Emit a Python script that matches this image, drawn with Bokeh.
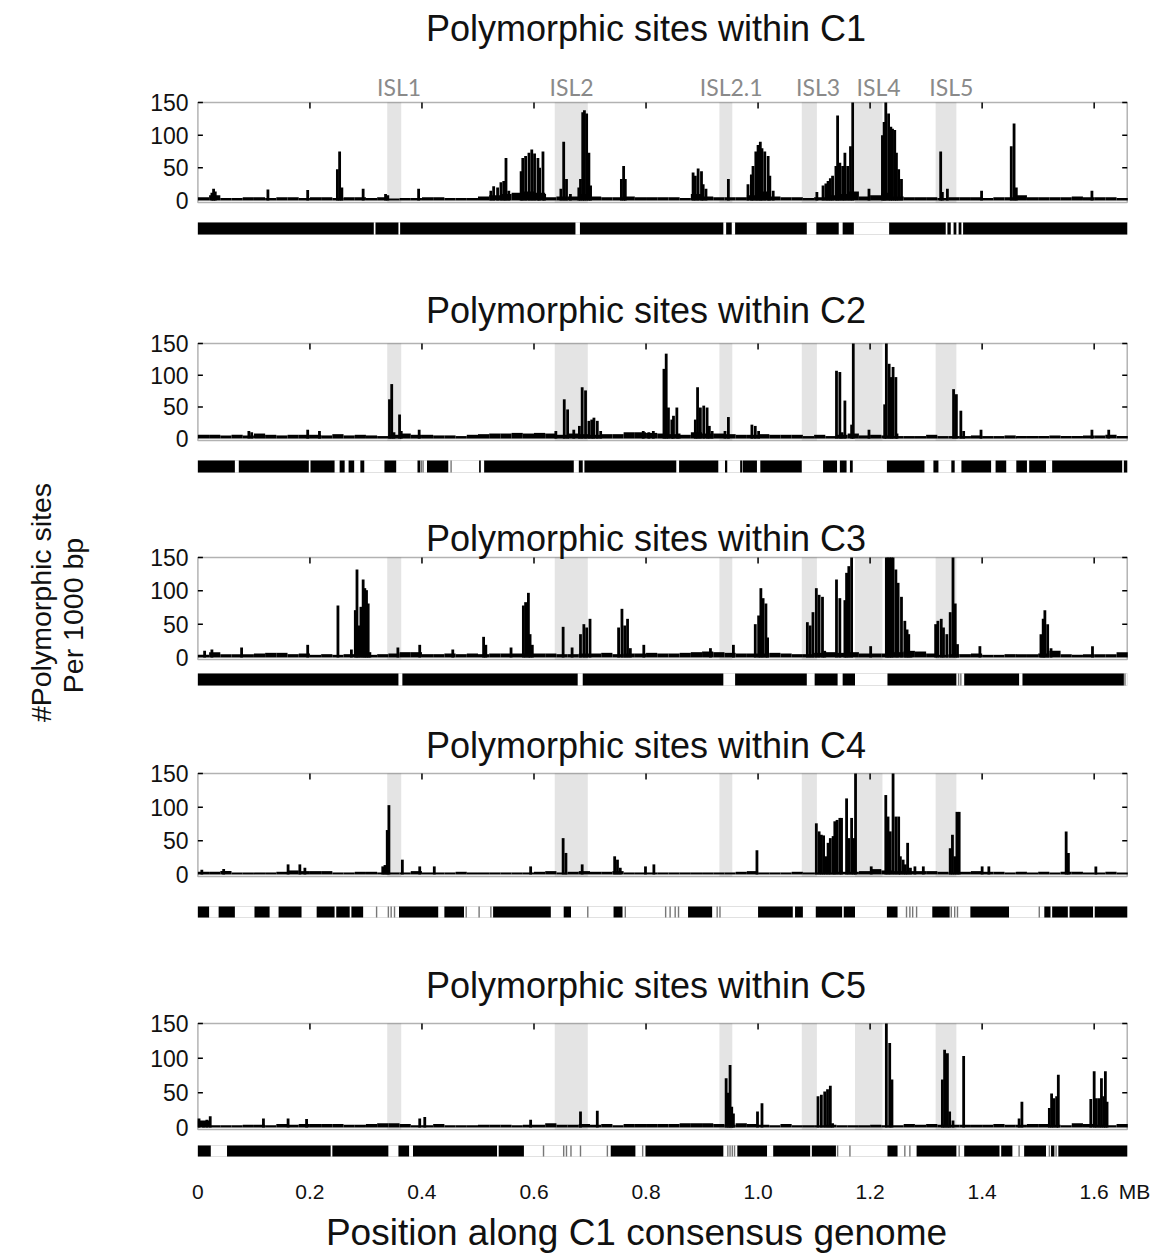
from math import pi
from bokeh.plotting import figure
from bokeh.models import Range1d, LinearAxis, FixedTicker, Label, BoxAnnotation
from bokeh.layouts import column, row
from bokeh.embed import file_html
from bokeh.resources import INLINE

FONT = "Liberation Sans"
ISL_FONT = "Lato"

# ---------------- data ----------------
# genomic islands (MB)
isl_names = ["ISL1", "ISL2", "ISL2.1", "ISL3", "ISL4", "ISL5"]
isl_start = [0.338, 0.637, 0.931, 1.078, 1.173, 1.317]
isl_end = [0.363, 0.696, 0.954, 1.105, 1.222, 1.354]
isl_label_x = [0.359, 0.667, 0.952, 1.107, 1.215, 1.345]

x_ticks = [0, 0.2, 0.4, 0.6, 0.8, 1.0, 1.2, 1.4, 1.6]
x_tick_labels = ["0", "0.2", "0.4", "0.6", "0.8", "1.0", "1.2", "1.4", "1.6"]
x_unit = "MB"
y_ticks = [0, 50, 100, 150]

# background level, 20 kb bins starting at 0
base_bin = 0.02
base_x = [0.01 + base_bin * i for i in range(83)]

c1_base = [5, 8, 4, 4, 5, 5, 4, 5, 5, 4,
           5, 5, 4, 5, 5, 4, 5, 3, 4, 4,
           5, 5, 4, 4, 4, 6, 8, 10, 12, 14,
           12, 5, 6, 6, 10, 6, 5, 5, 6, 5,
           5, 5, 5, 4, 10, 6, 5, 5, 5, 8,
           14, 6, 5, 5, 4, 5, 8, 10, 14, 6,
           8, 12, 6, 5, 5, 5, 4, 5, 5, 5,
           4, 5, 5, 8, 5, 5, 5, 5, 6, 5,
           5, 5, 4]
c2_base = [6, 6, 5, 6, 5, 8, 6, 5, 6, 6,
           6, 5, 7, 5, 6, 5, 4, 6, 8, 6,
           6, 5, 5, 4, 6, 7, 8, 8, 9, 8,
           9, 8, 6, 8, 7, 6, 7, 7, 10, 10,
           9, 8, 7, 6, 10, 8, 8, 7, 6, 6,
           7, 6, 6, 6, 4, 6, 4, 6, 8, 5,
           6, 5, 4, 4, 4, 6, 4, 4, 4, 5,
           4, 4, 5, 4, 4, 4, 5, 4, 4, 5,
           5, 6, 4]
c3_base = [4, 8, 5, 5, 5, 6, 7, 7, 5, 6,
           4, 5, 4, 5, 5, 4, 5, 6, 8, 8,
           5, 5, 6, 5, 6, 5, 6, 6, 6, 6,
           6, 6, 5, 5, 6, 6, 7, 5, 6, 6,
           7, 6, 6, 7, 8, 9, 8, 7, 6, 6,
           6, 7, 6, 5, 5, 7, 8, 7, 8, 6,
           6, 6, 8, 10, 9, 6, 4, 5, 5, 6,
           4, 4, 5, 5, 5, 6, 10, 5, 4, 5,
           5, 5, 8]
c4_base = [4, 4, 5, 3, 3, 3, 3, 4, 6, 5,
           5, 5, 3, 3, 4, 4, 3, 3, 3, 5,
           3, 3, 3, 4, 3, 3, 3, 3, 3, 3,
           4, 5, 3, 4, 5, 4, 4, 5, 3, 3,
           3, 3, 3, 3, 3, 3, 3, 3, 4, 5,
           3, 3, 3, 4, 3, 3, 3, 4, 4, 5,
           8, 6, 5, 5, 5, 5, 4, 3, 4, 5,
           4, 4, 3, 4, 3, 4, 3, 4, 4, 3,
           3, 4, 3]
c5_base = [10, 3, 3, 3, 4, 4, 3, 5, 4, 5,
           5, 5, 5, 4, 4, 5, 6, 6, 5, 3,
           3, 5, 3, 3, 3, 4, 4, 4, 3, 4,
           4, 6, 4, 4, 5, 4, 5, 3, 5, 5,
           5, 5, 5, 6, 6, 6, 5, 4, 6, 5,
           4, 3, 5, 3, 3, 3, 4, 3, 3, 3,
           4, 3, 3, 5, 4, 5, 4, 4, 4, 4,
           4, 5, 4, 4, 5, 5, 4, 3, 6, 5,
           4, 3, 5]

# fine 5 kb bins carrying the peaks (position MB, sites per 1000 bp)
spike_bin = 0.005
c1_sx = [0.025, 0.028, 0.031, 0.125, 0.196, 0.249, 0.253, 0.257, 0.295, 0.335, 0.339, 0.394,
         0.523, 0.528, 0.535, 0.541, 0.546, 0.550, 0.555,
         0.577, 0.580, 0.585, 0.591, 0.596, 0.601, 0.607, 0.610, 0.616, 0.619,
         0.648, 0.653, 0.658, 0.665,
         0.680, 0.683, 0.687, 0.690, 0.694, 0.698, 0.701,
         0.756, 0.760, 0.763,
         0.884, 0.888, 0.893, 0.899, 0.902, 0.907, 0.947,
         0.982, 0.988, 0.991, 0.996, 1.000, 1.004, 1.007, 1.012, 1.018, 1.021, 1.027,
         1.105, 1.116, 1.121, 1.125, 1.129, 1.133, 1.139, 1.142, 1.146, 1.151, 1.155, 1.160, 1.165, 1.169,
         1.198,
         1.222, 1.225, 1.228, 1.233, 1.237, 1.240, 1.244, 1.247, 1.251, 1.256,
         1.326, 1.329, 1.338, 1.399, 1.452, 1.457, 1.461, 1.596]
c1_sy = [12, 18, 14, 17, 16, 48, 75, 20, 18, 10, 8, 18,
         15, 22, 20, 28, 30, 65, 15,
         45, 65, 68, 73, 78, 72, 65, 50, 75, 10,
         18, 90, 33, 10,
         20, 33, 135, 138, 133, 73, 23,
         33, 53, 33,
         43, 38, 49, 45, 25, 18, 33,
         25, 40, 53, 75, 85, 90, 80, 75, 68, 38, 15,
         13, 23, 26, 30, 34, 38, 53, 130, 58, 53, 73, 53, 83, 150,
         18,
         100, 120, 150, 133, 113, 110, 108, 73, 48, 33,
         75, 13, 18, 15, 83, 118, 20, 15]

c2_sx = [0.091, 0.096, 0.196, 0.217,
         0.342, 0.346, 0.350, 0.360, 0.363, 0.395,
         0.639, 0.654, 0.660, 0.671, 0.681, 0.686, 0.692, 0.698, 0.703, 0.707, 0.713, 0.719,
         0.795, 0.805, 0.813,
         0.832, 0.836, 0.840, 0.846, 0.849, 0.855, 0.859,
         0.888, 0.892, 0.897, 0.903, 0.909, 0.913, 0.918,
         0.941, 0.947, 0.989, 0.995, 1.001,
         1.140, 1.146, 1.150, 1.155, 1.167, 1.170, 1.198,
         1.226, 1.229, 1.234, 1.238, 1.241, 1.246, 1.248,
         1.349, 1.354, 1.362, 1.367, 1.398, 1.596, 1.626]
c2_sy = [12, 10, 14, 12,
         62, 86, 10, 38, 12, 14,
         12, 62, 46, 14, 20, 81, 76, 28, 30, 33, 28, 12,
         12, 10, 12,
         110, 134, 49, 30, 36, 49, 8,
         30, 81, 49, 52, 49, 20, 12,
         12, 34, 22, 20, 12,
         107, 105, 10, 60, 22, 150, 14,
         54, 150, 118, 97, 113, 97, 8,
         78, 70, 44, 12, 14, 14, 14]

c3_sx = [0.012, 0.025, 0.078, 0.196, 0.250, 0.274,
         0.281, 0.284, 0.287, 0.291, 0.295, 0.298, 0.301, 0.304, 0.307,
         0.357, 0.396, 0.455, 0.510, 0.514, 0.559,
         0.581, 0.585, 0.590, 0.593, 0.597,
         0.652, 0.668, 0.683, 0.689, 0.694, 0.700,
         0.751, 0.757, 0.762, 0.767, 0.772, 0.796,
         0.915, 0.956,
         0.995, 1.001, 1.005, 1.009, 1.014, 1.017,
         1.088, 1.093, 1.098, 1.104, 1.109, 1.115, 1.119,
         1.140, 1.146, 1.155, 1.158, 1.162, 1.167,
         1.201,
         1.229, 1.232, 1.235, 1.238, 1.241, 1.246, 1.250, 1.256, 1.262, 1.266, 1.269, 1.273,
         1.317, 1.321, 1.327, 1.331, 1.337, 1.343, 1.348, 1.352, 1.356,
         1.396, 1.505, 1.509, 1.512, 1.517, 1.523, 1.597]
c3_sy = [10, 12, 15, 19, 78, 12,
         71, 132, 48, 76, 117, 104, 101, 81, 8,
         15, 19, 12, 31, 19, 15,
         78, 83, 97, 35, 19,
         46, 15, 35, 50, 45, 58,
         45, 73, 48, 58, 14, 19,
         14, 19,
         50, 63, 104, 89, 81, 30,
         53, 48, 68, 104, 94, 91, 10,
         117, 89, 86, 127, 137, 150,
         17,
         150, 150, 150, 150, 150, 132, 112, 91, 55, 42, 35, 8,
         50, 55, 58, 45, 35, 68, 150, 81, 20,
         17, 35, 58, 71, 50, 14, 17]

c4_sx = [0.007, 0.046, 0.161, 0.182, 0.191, 0.330, 0.334, 0.338, 0.341, 0.365, 0.396, 0.422, 0.594,
         0.652, 0.657, 0.686, 0.744, 0.749, 0.754, 0.799, 0.814,
         0.998,
         1.104, 1.109, 1.113, 1.117, 1.121, 1.125, 1.129, 1.134, 1.137, 1.141, 1.146, 1.149,
         1.158, 1.162, 1.167, 1.171, 1.174,
         1.202,
         1.228, 1.232, 1.236, 1.241, 1.246, 1.251, 1.254, 1.259, 1.263, 1.267, 1.272,
         1.280, 1.295,
         1.343, 1.347, 1.351, 1.355, 1.359,
         1.400, 1.412, 1.550, 1.554, 1.603]
c4_sy = [7, 8, 15, 15, 10, 12, 14, 66, 103, 22, 12, 12, 12,
         54, 32, 15, 27, 22, 10, 12, 15,
         36,
         76, 64, 59, 58, 27, 47, 54, 57, 79, 81, 84, 84,
         113, 54, 84, 54, 150,
         12,
         118, 86, 64, 150, 86, 86, 27, 22, 15, 47, 10,
         12, 12,
         39, 59, 27, 93, 93,
         12, 12, 64, 32, 12]

c5_sx = [0.002, 0.010, 0.016, 0.022, 0.117, 0.161, 0.194, 0.396, 0.405, 0.594, 0.683, 0.713,
         0.943, 0.947, 0.950, 0.953, 0.956,
         0.999, 1.007,
         1.107, 1.113, 1.119, 1.124, 1.129, 1.133,
         1.229, 1.235, 1.239,
         1.329, 1.333, 1.338, 1.342, 1.348,
         1.367,
         1.466, 1.471,
         1.520, 1.524, 1.528, 1.533, 1.536,
         1.594, 1.600, 1.604, 1.609, 1.613, 1.617, 1.620, 1.623]
c5_sy = [13, 8, 11, 16, 13, 13, 12, 13, 15, 11, 23, 24,
         71, 50, 90, 30, 20,
         23, 35,
         45, 47, 52, 55, 60, 6,
         150, 122, 69,
         69, 112, 107, 23, 10,
         103,
         13, 37,
         28, 49, 42, 45, 76,
         41, 81, 42, 42, 71, 45, 81, 37]

# black segments of the strip under each panel (MB)
c1_bs = [0, 0.317, 0.361, 0.682, 0.943, 0.959, 1.104, 1.151, 1.234, 1.338, 1.349, 1.358, 1.366]
c1_be = [0.314, 0.358, 0.674, 0.938, 0.953, 1.087, 1.144, 1.171, 1.335, 1.344, 1.354, 1.363, 1.659]
c2_bs = [0, 0.073, 0.201, 0.253, 0.269, 0.290, 0.333, 0.392, 0.409, 0.502, 0.511, 0.680, 0.690,
         0.859, 0.941, 0.968, 0.973, 1.004, 1.116, 1.146, 1.164, 1.230, 1.313, 1.345, 1.363,
         1.424, 1.461, 1.484, 1.525, 1.653]
c2_be = [0.066, 0.198, 0.244, 0.262, 0.279, 0.297, 0.354, 0.397, 0.447, 0.505, 0.671, 0.687, 0.854,
         0.929, 0.945, 0.972, 0.998, 1.078, 1.141, 1.158, 1.169, 1.297, 1.322, 1.351, 1.416,
         1.443, 1.480, 1.514, 1.650, 1.659]
c3_bs = [0, 0.365, 0.687, 0.959, 1.101, 1.151, 1.231, 1.368, 1.472]
c3_be = [0.358, 0.678, 0.938, 1.087, 1.142, 1.173, 1.354, 1.466, 1.653]
c4_bs = [0, 0.037, 0.101, 0.144, 0.212, 0.247, 0.274, 0.359, 0.440, 0.527, 0.653, 0.742,
         0.875, 1.000, 1.066, 1.103, 1.153, 1.230, 1.311, 1.379, 1.511, 1.525, 1.556, 1.601]
c4_be = [0.020, 0.066, 0.128, 0.185, 0.244, 0.271, 0.295, 0.429, 0.475, 0.630, 0.666, 0.758,
         0.918, 1.062, 1.080, 1.150, 1.173, 1.249, 1.342, 1.448, 1.522, 1.553, 1.598, 1.659]
c5_bs = [0, 0.052, 0.240, 0.358, 0.384, 0.537, 0.737, 0.799, 0.963, 1.027, 1.096, 1.231,
         1.283, 1.368, 1.434, 1.475, 1.523, 1.536]
c5_be = [0.023, 0.237, 0.340, 0.377, 0.534, 0.582, 0.781, 0.938, 1.016, 1.093, 1.139, 1.249,
         1.354, 1.431, 1.454, 1.514, 1.529, 1.659]
# thin grey marks in the strips (MB)
c1_gray = []
c2_gray = [0.399, 0.402, 0.452]
c3_gray = [1.358, 1.362, 1.655]
c4_gray = [0.319, 0.340, 0.345, 0.351, 0.479, 0.502, 0.523, 0.696, 0.763, 0.835, 0.843, 0.852,
           0.858, 0.927, 0.932, 1.265, 1.271, 1.276, 1.283, 1.345, 1.351, 1.356, 1.502]
c5_gray = [0.617, 0.653, 0.658, 0.666, 0.683, 0.731, 0.794, 0.946, 0.950, 0.954, 0.958, 1.142,
           1.164, 1.262, 1.271, 1.359, 1.466, 1.520, 1.532]

titles = ["Polymorphic sites within C1", "Polymorphic sites within C2", "Polymorphic sites within C3",
          "Polymorphic sites within C4", "Polymorphic sites within C5"]
x_title = "Position along C1 consensus genome"
y_title = ["#Polymorphic sites", "Per 1000 bp"]

# ---------------- layout (page pixels; Bokeh's page has no body margin) ----------------
PAGE_W, PAGE_H = 1160, 1255
LAB_W = 110
COL_W = PAGE_W - LAB_W
FRAME_LEFT = 196 - LAB_W
FRAME_W = 939
FRAME_RIGHT = COL_W - FRAME_LEFT - FRAME_W
X_END = 1.659                     # right edge of the boxes
UX = 1.662 / 931                  # MB per pixel
XS = -0.0025
XE = XS + FRAME_W * UX
Y0 = -3
TITLE_X = 0.80
UNIT_X = 1.672                    # unit label just past the end of the axis
# fig_top, frame_top(150), frame_bot, title_y, strip_top, strip_bot, fig_bot
geom = [
    (0, 102, 202, 28, 222, 234, 240),
    (240, 343, 440, 310, 460, 472, 505),
    (505, 557, 659, 538, 673, 685, 715),
    (715, 773, 876, 745, 906, 917, 955),
    (955, 1023, 1129, 985, 1145, 1156, 1206),
]
ISL_Y = 86
XLAB_Y = 1232
panels = [
    (c1_base, c1_sx, c1_sy, c1_bs, c1_be, c1_gray),
    (c2_base, c2_sx, c2_sy, c2_bs, c2_be, c2_gray),
    (c3_base, c3_sx, c3_sy, c3_bs, c3_be, c3_gray),
    (c4_base, c4_sx, c4_sy, c4_bs, c4_be, c4_gray),
    (c5_base, c5_sx, c5_sy, c5_bs, c5_be, c5_gray),
]

x_range = Range1d(XS, XE)
figs = []
for k, ((base, sx, sy, bs, be, gray), (ft, fr_t, fr_b, ty, st, sb, fbot)) in enumerate(zip(panels, geom)):
    last = (k == len(geom) - 1)
    u = (150 - Y0) / (fr_b - fr_t)          # data units per pixel
    frame_bottom_px = sb + 1 if last else fbot
    y_lo = Y0 - (frame_bottom_px - fr_b) * u
    y_hi = 150 + (fr_t - ft) * u
    p = figure(width=COL_W, height=fbot - ft, x_range=x_range, y_range=Range1d(y_lo, y_hi),
               x_axis_type=None, y_axis_type=None, toolbar_location=None, output_backend="svg",
               min_border_left=FRAME_LEFT, min_border_right=FRAME_RIGHT,
               min_border_top=0, min_border_bottom=(fbot - frame_bottom_px) if last else 0)
    p.outline_line_color = None
    p.background_fill_color = "white"

    # islands
    for s, e in zip(isl_start, isl_end):
        p.add_layout(BoxAnnotation(left=s, right=e, bottom=Y0, top=150, fill_color="#e4e4e4",
                                   fill_alpha=1.0, line_color=None, level="underlay"))
    # histogram
    p.vbar(x=base_x, width=base_bin, top=base, bottom=0, fill_color="black", line_color=None)
    p.vbar(x=sx, width=spike_bin, top=sy, bottom=0, fill_color="black", line_color=None)
    # box
    p.add_layout(BoxAnnotation(left=0, right=X_END, bottom=Y0, top=150, fill_color=None,
                               line_color="black", line_width=1.5, level="overlay"))
    # inward ticks
    p.segment(x0=x_ticks[1:], y0=150, x1=x_ticks[1:], y1=150 - 6 * u, line_color="black",
              line_width=1.5)
    p.segment(x0=0, y0=y_ticks[1:], x1=5 * UX, y1=y_ticks[1:], line_color="black", line_width=1.5)
    p.segment(x0=X_END - 5 * UX, y0=y_ticks[1:], x1=X_END, y1=y_ticks[1:], line_color="black",
              line_width=1.5)
    # y tick labels
    left = LinearAxis(ticker=FixedTicker(ticks=y_ticks), major_tick_line_color=None,
                      major_tick_in=0, major_tick_out=0,
                      minor_tick_line_color=None, axis_line_color=None,
                      major_label_text_font=FONT, major_label_text_font_size="23px",
                      major_label_standoff=8, major_label_text_color="#111111")
    p.add_layout(left, "left")

    # strip
    s_hi = Y0 - (st - fr_b) * u
    s_lo = Y0 - (sb - fr_b) * u
    p.quad(left=bs, right=be, bottom=s_lo, top=s_hi, fill_color="black", line_color=None)
    if gray:
        p.vbar(x=gray, width=0.0025, top=s_hi, bottom=s_lo, fill_color="#777777", line_color=None)
    p.add_layout(BoxAnnotation(left=0, right=X_END, bottom=s_lo, top=s_hi, fill_color=None,
                               line_color="#9a9a9a", line_width=1, level="underlay"))

    # titles
    p.add_layout(Label(x=TITLE_X, y=150 + (fr_t - ty) * u, text=titles[k], text_font=FONT,
                       text_font_size="36px", text_align="center", text_baseline="middle",
                       text_color="#111111"))
    if k == 0:
        for name, lx in zip(isl_names, isl_label_x):
            p.add_layout(Label(x=lx, y=150 + (fr_t - ISL_Y) * u, text=name, text_font=ISL_FONT,
                               text_font_size="23px", text_align="center", text_baseline="middle",
                               text_color="#8a8a8a"))
    if last:
        labels = dict(zip(x_ticks, x_tick_labels))
        labels[UNIT_X] = x_unit
        ax = LinearAxis(ticker=FixedTicker(ticks=x_ticks + [UNIT_X]), major_tick_line_color=None,
                        major_tick_in=0, major_tick_out=0,
                        minor_tick_line_color=None, axis_line_color=None,
                        major_label_text_font=FONT, major_label_text_font_size="21px",
                        major_label_text_color="#111111", major_label_standoff=22,
                        major_label_overrides=labels)
        p.add_layout(ax, "below")
    figs.append(p)

# x-axis title row
xt_top = geom[-1][6]
xt = figure(width=COL_W, height=PAGE_H - xt_top, x_range=x_range, y_range=Range1d(0, PAGE_H - xt_top),
            x_axis_type=None, y_axis_type=None, toolbar_location=None, output_backend="svg",
            min_border_left=FRAME_LEFT, min_border_right=FRAME_RIGHT, min_border_top=0,
            min_border_bottom=0, outline_line_color=None)
xt.add_layout(Label(x=0.783, y=PAGE_H - XLAB_Y, text=x_title, text_font=FONT,
                    text_font_size="37px", text_align="center", text_baseline="middle",
                    text_color="#111111"))
figs.append(xt)

# y-axis title column
lab = figure(width=LAB_W, height=PAGE_H, x_range=Range1d(0, LAB_W), y_range=Range1d(0, PAGE_H),
             x_axis_type=None, y_axis_type=None, toolbar_location=None, output_backend="svg",
             min_border=0, outline_line_color=None)
lab.add_layout(Label(x=40, y=PAGE_H - 602, text=y_title[0], angle=pi / 2,
                     text_font=FONT, text_font_size="28.5px", text_align="center",
                     text_baseline="middle", text_color="#111111"))
lab.add_layout(Label(x=72, y=PAGE_H - 615, text=y_title[1], angle=pi / 2,
                     text_font=FONT, text_font_size="28.5px", text_align="center",
                     text_baseline="middle", text_color="#111111"))

layout = row(lab, column(*figs))
open("out.html", "w").write(file_html(layout, INLINE))
